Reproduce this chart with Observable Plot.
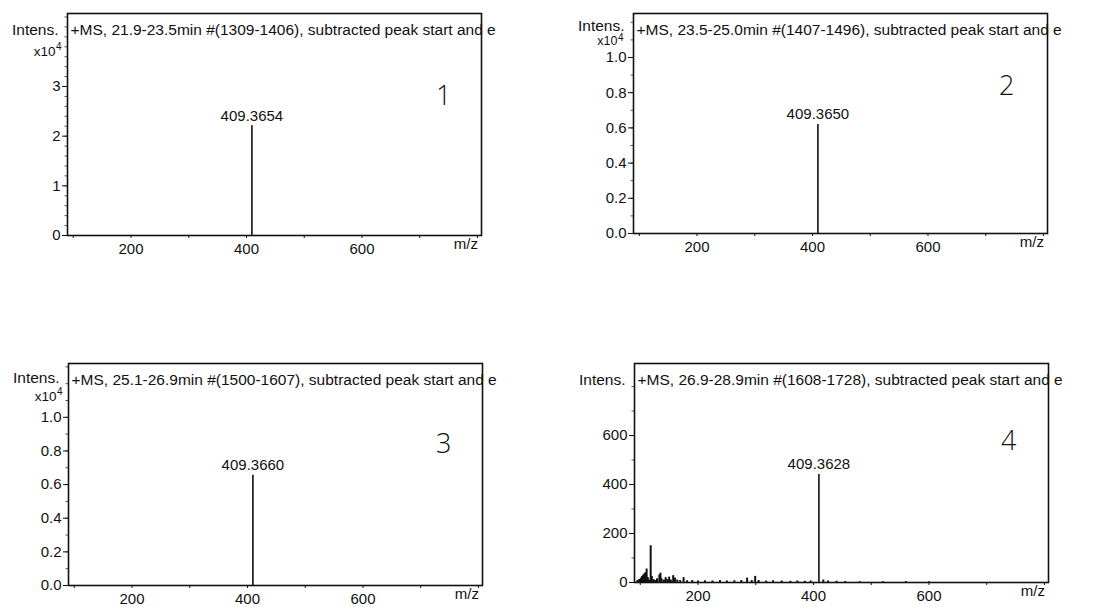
<!DOCTYPE html>
<html><head><meta charset="utf-8">
<script src="https://cdn.jsdelivr.net/npm/d3@7"></script>
<script src="https://cdn.jsdelivr.net/npm/@observablehq/plot@0.6"></script>
<style>
body{margin:0;background:#fff;width:1098px;height:607px;position:relative;overflow:hidden;font-family:"Liberation Sans",Arial,sans-serif}
.panel{position:absolute;overflow:hidden}
.panel svg{overflow:hidden;display:block}
</style></head><body>
<div id="p0" class="panel"></div>
<div id="p1" class="panel"></div>
<div id="p2" class="panel"></div>
<div id="p3" class="panel"></div>
<script>
// ---- data ----
const panelTitles = [
  "+MS, 21.9-23.5min #(1309-1406), subtracted peak start and e",
  "+MS, 23.5-25.0min #(1407-1496), subtracted peak start and e",
  "+MS, 25.1-26.9min #(1500-1607), subtracted peak start and e",
  "+MS, 26.9-28.9min #(1608-1728), subtracted peak start and e"
];
const panelNumbers = ["1", "2", "3", "4"];
const peakMz = [409.3654, 409.3650, 409.3660, 409.3628];
const peakIntensity = [22100, 6200, 6550, 441];
const yTickValues = [
  [0, 10000, 20000, 30000],
  [0, 2000, 4000, 6000, 8000, 10000],
  [0, 2000, 4000, 6000, 8000, 10000],
  [0, 200, 400, 600]
];
const yTickLabels = [
  ["0", "1", "2", "3"],
  ["0.0", "0.2", "0.4", "0.6", "0.8", "1.0"],
  ["0.0", "0.2", "0.4", "0.6", "0.8", "1.0"],
  ["0", "200", "400", "600"]
];
const yScaleBase = ["x10", "x10", "x10", ""];
const yScaleExp = ["4", "4", "4", ""];
const xTickValues = [200, 400, 600];
const xMinorTicks = [100, 200, 300, 400, 500, 600, 700, 800];
// panel 4 background peaks (m/z, intensity)
const noiseMz = [95, 98, 101, 103, 105, 107, 109, 111, 113, 115, 118, 120, 123, 126, 129, 133, 135, 137, 141, 144, 147, 150, 153, 157, 160, 164, 169, 175, 181, 190, 200, 212, 225, 238, 250, 263, 275, 285, 293, 299, 305, 318, 330, 345, 360, 372, 385, 395, 417, 425, 440, 455, 480, 520, 560, 600];
const noiseIntensity = [8, 12, 18, 25, 30, 35, 40, 55, 20, 10, 150, 25, 12, 8, 15, 30, 38, 15, 10, 20, 12, 22, 10, 28, 18, 10, 8, 20, 7, 8, 6, 7, 6, 8, 6, 7, 8, 18, 8, 25, 8, 6, 7, 6, 5, 6, 5, 6, 10, 6, 5, 4, 3, 3, 4, 3];

// ---- layout ----
const layout = [
  {left: 0,   top: 0,   w: 497, h: 262, ml: 67, mr: 16, mt: 13, mb: 27, yMax: 44700, minor: 2000, sdy: 33, edy: 4, sfs: 13.5, sdx: -12, idy: 10, ndx: -30, ndy: 72},
  {left: 548, top: 0,   w: 550, h: 262, ml: 85, mr: 51, mt: 13, mb: 29, yMax: 12500, minor: 1000, sdy: 23, edy: 3, sfs: 12.5, sdx: -16, idy: 6,  ndx: -33, ndy: 62},
  {left: 0,   top: 350, w: 497, h: 257, ml: 68, mr: 15, mt: 13, mb: 22, yMax: 13200, minor: 1000, sdy: 28, edy: 4, sfs: 13.5, sdx: -12, idy: 8,  ndx: -31, ndy: 70},
  {left: 548, top: 350, w: 550, h: 257, ml: 86, mr: 50, mt: 13, mb: 25, yMax: 894,   minor: 100,  sdy: 27, edy: 4, sfs: 13.5, sdx: -12, idy: 10, ndx: -32, ndy: 67}
];

const ink = "#111";
const font = "'Liberation Sans', Arial, sans-serif";

layout.forEach((cfg, i) => {
  const peaks = [{mz: peakMz[i], y: peakIntensity[i]}];
  const noise = i === 3 ? noiseMz.map((m, k) => ({mz: m, y: noiseIntensity[k]})) : [];
  const minorTicks = d3.range(0, cfg.yMax + 1e-9, cfg.minor);
  const tv = yTickValues[i], tl = yTickLabels[i];
  const scaleMarks = yScaleBase[i] ? [
    Plot.text([yScaleBase[i]], {frameAnchor: "top-left", dx: cfg.sdx, dy: cfg.sdy, textAnchor: "end", fontSize: cfg.sfs, fill: ink}),
    Plot.text([yScaleExp[i]], {frameAnchor: "top-left", dx: cfg.sdx + 0.5, dy: cfg.sdy - cfg.edy, textAnchor: "start", fontSize: 10, fill: ink})
  ] : [];
  const chart = Plot.plot({
    width: cfg.w, height: cfg.h,
    marginLeft: cfg.ml, marginRight: cfg.mr, marginTop: cfg.mt, marginBottom: cfg.mb,
    style: {fontFamily: font, fontSize: "15px", color: ink, background: "white", overflow: "hidden"},
    x: {domain: [90, 807]},
    y: {domain: [0, cfg.yMax]},
    marks: [
      Plot.axisY(minorTicks, {tickSize: 2.5, tickFormat: () => "", label: null, stroke: "#555"}),
      Plot.axisY(tv, {tickSize: 5, tickPadding: 2, tickFormat: d => tl[tv.indexOf(d)], label: null, fontSize: 15}),
      Plot.axisX(xMinorTicks, {tickSize: 3, tickPadding: 5, tickFormat: d => xTickValues.includes(d) ? String(d) : "", label: null, fontSize: 15}),
      Plot.text(["m/z"], {x: 780, frameAnchor: "bottom", dy: 13, fontSize: 15, fill: ink}),
      Plot.text(["Intens."], {frameAnchor: "top-left", dx: -9, dy: cfg.idy, textAnchor: "end", fontSize: 15.5, fill: ink}),
      ...scaleMarks,
      Plot.ruleX(noise, {x: "mz", y1: 0, y2: "y", stroke: ink, strokeWidth: 2}),
      Plot.ruleX(peaks, {x: "mz", y1: 0, y2: "y", stroke: ink, strokeWidth: 1.6}),
      Plot.text(peaks, {x: "mz", y: "y", text: d => d.mz.toFixed(4), dy: -10, fontSize: 15, fill: ink}),
      Plot.frame({stroke: ink, strokeWidth: 1.6}),
      Plot.text([panelTitles[i]], {frameAnchor: "top-left", dx: 3, dy: 10, textAnchor: "start", fontSize: 15.5, fill: ink}),
      Plot.text([panelNumbers[i]], {frameAnchor: "top-right", dx: cfg.ndx, dy: cfg.ndy, fontSize: 27, fontWeight: 300, fontFamily: "'Open Sans', 'Noto Sans', sans-serif", fill: ink})
    ]
  });
  const div = document.getElementById("p" + i);
  div.style.left = cfg.left + "px";
  div.style.top = cfg.top + "px";
  div.style.width = cfg.w + "px";
  div.style.height = cfg.h + "px";
  div.appendChild(chart);
});
</script>
</body></html>
